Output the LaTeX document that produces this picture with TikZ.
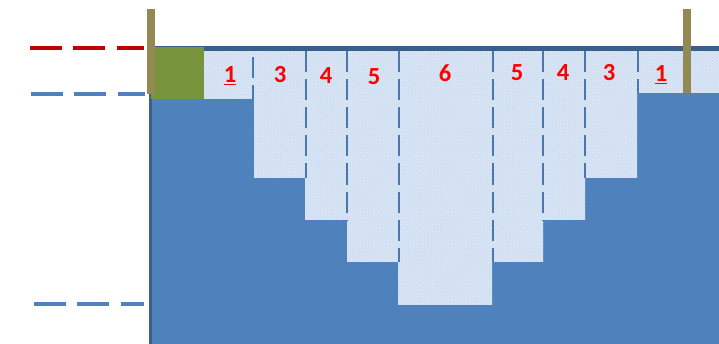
\documentclass[tikz,border=0pt]{standalone}
\usepackage{fontspec}
\setmainfont{Carlito}
\usetikzlibrary{patterns}
\definecolor{water}{RGB}{79,129,189}
\definecolor{edge}{RGB}{58,95,140}
\definecolor{soil}{RGB}{119,147,60}
\definecolor{pile}{RGB}{147,137,83}
\definecolor{pale}{RGB}{208,223,242}
\definecolor{lvlred}{RGB}{192,0,0}

\begin{document}
\begin{tikzpicture}[x=0.03cm, y=-0.03cm,
    lab/.style={text=red, anchor=base, font=\fontsize{21}{23}\selectfont\bfseries},
    cut/.style={draw=water!92!black, line width=2.5pt, dash pattern=on 18pt off 6pt},
    lvl/.style={line width=3.4pt, dash pattern=on 27pt off 10pt}]
  \useasboundingbox (0,0) rectangle (719,344);
  % water body
  \fill[water] (151,49) rectangle (719,344);
  % excavated steps
  \path[fill=pale, postaction={pattern=crosshatch dots, pattern color=white!55!pale}]
       (204,51)--(204,99)--(254,99)--(254,178)--(305,178)--(305,220)--(347,220)
       --(347,262)--(398,262)--(398,305)--(492,305)--(492,262)--(543,262)
       --(543,220)--(585,220)--(585,178)--(637,178)--(637,93)--(719,93)
       --(719,51)--cycle;
  % borders
  \draw[edge, line width=2.6pt] (150.5,46)--(150.5,344);
  \draw[edge, line width=3.6pt] (150,48.5)--(719,48.5);
  % bank and piles
  \fill[soil] (151,47) rectangle (204,99);
  \fill[pile] (147,9) rectangle (155,94);
  \fill[pile] (683,9) rectangle (691,93);
  % cut lines
  \draw[cut] (253,57)--(253,99);
  \draw[cut] (306,51)--(306,178);
  \draw[cut] (347,51)--(347,220);
  \draw[cut] (399,51)--(399,262);
  \draw[cut] (493,51)--(493,262);
  \draw[cut] (543,51)--(543,220);
  \draw[cut] (585,51)--(585,178);
  \draw[cut] (638,51)--(638,93);
  % levels
  \draw[lvl, lvlred] (30,48)--(144,48);
  \draw[lvl, water] (31,94)--(145,94);
  \draw[lvl, water] (34,304)--(144,304);
  % step numbers
  \node[lab] (l1) at (230,83) {\underline{1}};
  \node[lab] (l3) at (280,83) {3};
  \node[lab] (l4) at (326,84) {4};
  \node[lab] (l5) at (374,85) {5};
  \node[lab] (l6) at (445,82) {6};
  \node[lab] (r5) at (517,81) {5};
  \node[lab] (r4) at (563,81) {4};
  \node[lab] (r3) at (609,81) {3};
  \node[lab] (r1) at (661,82) {\underline{1}};
\end{tikzpicture}
\end{document}
